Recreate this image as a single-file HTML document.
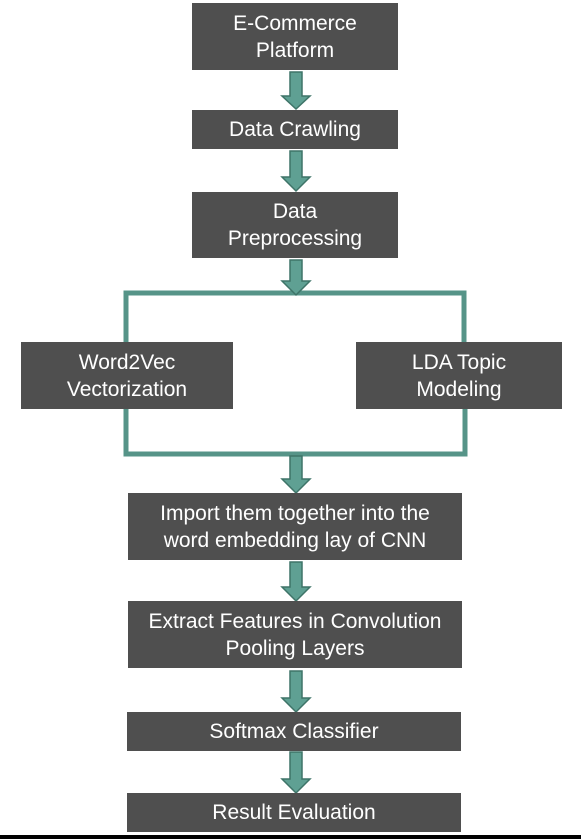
<!DOCTYPE html>
<html><head><style>
body{margin:0;background:#fff;width:581px;height:839px;overflow:hidden;position:relative;font-family:"Liberation Sans",sans-serif}
.b{position:absolute;background:#4f4f4f;color:#fff;font-size:21px;line-height:27px;display:flex;align-items:center;justify-content:center;text-align:center;white-space:nowrap}
svg{position:absolute;left:0;top:0}
</style></head><body>
<svg width="581" height="839">
<g fill="none" stroke="#569488" stroke-width="5" stroke-linecap="round">
<path d="M126 342 V293 H464 V342"/>
<path d="M126 409 V454 H465 V409"/>
</g>
<g fill="#5fa093" stroke="#3e7468" stroke-width="1.5">
<path d="M290 72 H302 V96 H310 L296 109 L282 96 H290 Z"/>
<path d="M290 151 H302 V177 H310 L296 191 L282 177 H290 Z"/>
<path d="M290 260 H302 V281 H310 L296 295 L282 281 H290 Z"/>
<path d="M290 456 H302 V479 H310 L296 493 L282 479 H290 Z"/>
<path d="M290 562 H302 V587 H310 L296 601 L282 587 H290 Z"/>
<path d="M290 671 H302 V698 H310 L296 712 L282 698 H290 Z"/>
<path d="M290 752 H302 V779 H310 L296 793 L282 779 H290 Z"/>
</g>
<rect x="0" y="835" width="581" height="4" fill="#000"/>
</svg>
<div class="b" style="left:192px;top:3px;width:206px;height:67px">E-Commerce<br>Platform</div>
<div class="b" style="left:192px;top:110px;width:206px;height:39px">Data Crawling</div>
<div class="b" style="left:192px;top:192px;width:206px;height:66px">Data<br>Preprocessing</div>
<div class="b" style="left:21px;top:342px;width:212px;height:67px">Word2Vec<br>Vectorization</div>
<div class="b" style="left:356px;top:342px;width:206px;height:67px">LDA Topic<br>Modeling</div>
<div class="b" style="left:128px;top:493px;width:334px;height:67px">Import them together into the<br>word embedding lay of CNN</div>
<div class="b" style="left:128px;top:601px;width:334px;height:67px">Extract Features in Convolution<br>Pooling Layers</div>
<div class="b" style="left:127px;top:712px;width:334px;height:39px">Softmax Classifier</div>
<div class="b" style="left:127px;top:793px;width:334px;height:39px">Result Evaluation</div>
</body></html>
